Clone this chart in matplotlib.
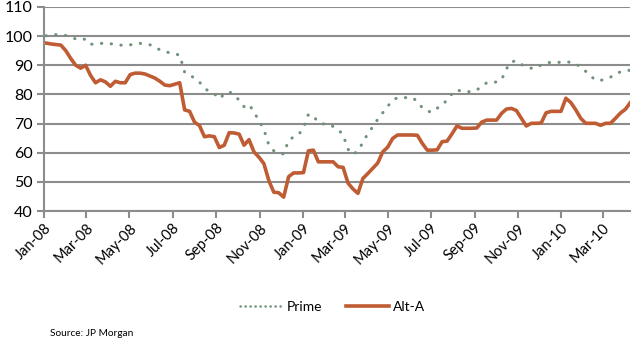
import numpy as np
import pandas as pd
import matplotlib.pyplot as plt
import matplotlib.dates as mdates
from matplotlib.lines import Line2D

plt.rcParams['font.family'] = ['Lato', 'DejaVu Sans']

# weekly prices, first Friday of 2008 onward
dates = pd.date_range('2008-01-04', periods=119, freq='W-FRI')

prime = [100.1, 100.4, 100.5, 100.5, 100.2, 99.7, 99.0, 98.7, 99.0, 97.2,
         97.3, 97.5, 97.5, 97.4, 97.1, 96.9, 96.8, 97.0, 97.2, 97.5,
         97.3, 97.0, 96.1, 95.3, 94.6, 94.3, 93.9, 93.5, 87.6, 86.9,
         85.4, 84.2, 82.3, 80.8, 80.2, 78.5, 80.1, 80.9, 79.9, 78.0,
         75.8, 76.6, 74.0, 71.0, 68.0, 62.7, 60.7, 59.8, 59.6, 64.3,
         65.4, 66.2, 68.5, 73.2, 72.6, 70.4, 69.9, 69.9, 69.0, 68.0,
         66.1, 61.2, 59.4, 60.7, 63.5, 66.6, 68.9, 71.5, 73.7, 75.9,
         78.0, 78.9, 78.9, 78.9, 78.9, 77.6, 75.4, 74.3, 73.9, 75.3,
         76.2, 78.2, 80.2, 81.6, 81.0, 80.9, 81.0, 81.5, 82.8, 84.0,
         84.0, 84.3, 85.0, 88.8, 91.2, 91.5, 90.3, 89.3, 89.0, 89.0,
         90.1, 90.8, 91.0, 91.0, 91.0, 91.2, 91.0, 90.5, 89.3, 87.9,
         86.3, 84.9, 84.8, 85.3, 85.9, 87.1, 87.7, 88.1, 88.3]

alt_a = [97.6, 97.3, 97.1, 96.9, 95.0, 92.3, 90.0, 89.0, 90.0, 86.5,
         84.0, 85.0, 84.3, 82.8, 84.5, 84.0, 84.0, 86.8, 87.3, 87.3,
         87.0, 86.3, 85.6, 84.5, 83.2, 83.0, 83.5, 84.0, 74.7, 74.2,
         70.5, 69.3, 65.5, 65.8, 65.5, 61.8, 62.6, 66.9, 66.8, 66.4,
         62.6, 64.5, 60.3, 58.5, 56.3, 50.5, 46.5, 46.3, 44.8, 51.8,
         53.1, 53.1, 53.2, 60.7, 60.9, 56.9, 56.9, 56.9, 56.9, 55.2,
         55.0, 49.6, 47.6, 46.1, 51.2, 52.9, 54.7, 56.5, 60.3, 61.9,
         64.9, 66.1, 66.1, 66.1, 66.1, 66.0, 63.2, 60.9, 60.9, 61.0,
         63.8, 64.0, 66.5, 69.2, 68.4, 68.4, 68.4, 68.5, 70.5, 71.2,
         71.2, 71.2, 73.5, 75.0, 75.2, 74.5, 71.8, 69.2, 70.1, 70.1,
         70.2, 73.7, 74.2, 74.2, 74.2, 78.7, 77.2, 74.7, 71.8, 70.1,
         70.1, 70.1, 69.4, 70.1, 70.1, 71.8, 73.6, 74.9, 77.2]

grey = '#8c8c8c'
prime_col = '#72917a'
alt_col = '#bf5c33'

fig = plt.figure(figsize=(6.36, 3.45), dpi=100)
ax = fig.add_axes([0.069, 0.388, 0.922, 0.592])

ax.plot(dates, prime, color=prime_col, linewidth=2.2,
        linestyle=(0, (0.1, 3.1)), dash_capstyle='round')
ax.plot(dates, alt_a, color=alt_col, linewidth=2.6, solid_joinstyle='round')

ax.set_ylim(40, 110)
ax.set_yticks(np.arange(40, 111, 10))
ax.set_xlim(pd.Timestamp('2008-01-01'), dates[-1])
ax.xaxis.set_major_locator(mdates.MonthLocator(bymonth=[1, 3, 5, 7, 9, 11]))
ax.xaxis.set_major_formatter(mdates.DateFormatter('%b-%y'))

ax.grid(axis='y', color=grey, linewidth=1.5)
ax.set_axisbelow(True)
for side in ['top', 'right']:
    ax.spines[side].set_visible(False)
for side in ['left', 'bottom']:
    ax.spines[side].set_color(grey)
    ax.spines[side].set_linewidth(1.5)

ax.tick_params(axis='both', colors=grey, width=1.5, length=5,
               labelcolor='black')
ax.tick_params(axis='y', labelsize=11.5, pad=3)
ax.tick_params(axis='x', labelsize=10.5, pad=2)
for lbl in ax.get_xticklabels():
    lbl.set_rotation(45)
    lbl.set_ha('right')
    lbl.set_rotation_mode('anchor')

# legend keys: tighter dots for the Prime sample
handles = [
    Line2D([], [], color=prime_col, linewidth=1.8,
           linestyle=(0, (0.1, 1.9)), dash_capstyle='round'),
    Line2D([], [], color=alt_col, linewidth=2.6),
]
fig.legend(handles, ['Prime', 'Alt-A'], loc='center',
           bbox_to_anchor=(0.523, 1 - 307 / 345), ncol=2,
           frameon=False, fontsize=10, handlelength=3.1,
           columnspacing=1.7, handletextpad=0.3)

fig.text(50 / 636, 1 - 333 / 345, 'Source: JP Morgan', fontsize=7.3,
         va='center', ha='left')

fig.savefig('out.png', dpi=100)
